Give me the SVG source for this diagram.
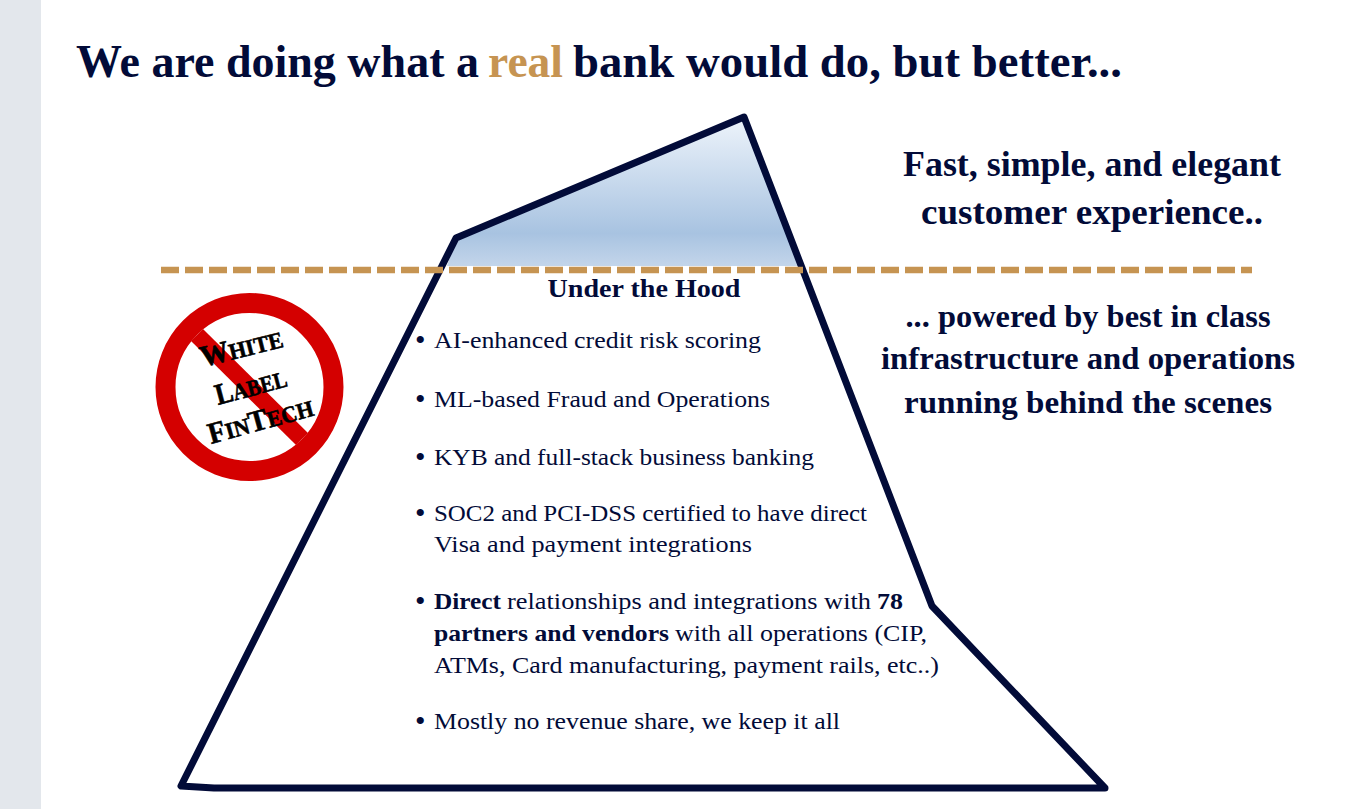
<svg xmlns="http://www.w3.org/2000/svg" width="1367" height="809" viewBox="0 0 1367 809">
<style>
text{font-family:"Liberation Serif","Times New Roman",serif;fill:#020b38}
.h{font-weight:bold;font-size:47px}
.s{font-weight:bold;font-size:36px;text-anchor:middle}
.t{font-weight:bold;font-size:32.500px;text-anchor:middle}
.u{font-weight:bold;font-size:26px;text-anchor:middle}
.b{font-size:24px}
.k{font-size:24px;font-weight:bold}
.d{font-size:30px}
.w{font-weight:bold;font-size:30px;fill:#000;stroke:#000;stroke-width:.6px}
.w tspan{font-size:23px}
</style>
<defs>
<linearGradient id="g" x1="0" y1="0" x2="0" y2="1">
<stop offset="0" stop-color="#eef4fb"/><stop offset="0.78" stop-color="#a8c3e1"/><stop offset="1" stop-color="#c3d5ea"/>
</linearGradient>
</defs>
<rect width="1367" height="809" fill="#fff"/>
<rect width="41" height="809" fill="#e3e7ec"/>
<g id="title">
<text class="h" x="76" y="77" textLength="403" lengthAdjust="spacingAndGlyphs">We are doing what a</text>
<text class="h" x="488" y="77" textLength="75" lengthAdjust="spacingAndGlyphs" style="fill:#c69452">real</text>
<text class="h" x="573" y="77" textLength="549" lengthAdjust="spacingAndGlyphs">bank would do, but better...</text>
</g>
<g id="iceberg">
<path d="M456 238 744 117 802 266H447Z" fill="url(#g)"/>
<path d="M744 117 456 238 181 786 214 788H1105L932 606Z" fill="none" stroke="#020b38" stroke-width="7" stroke-linejoin="round"/>
</g>
<g id="connectors"><path d="M161 270H1252" fill="none" stroke="#c69452" stroke-width="6.500" stroke-dasharray="18 6"/></g>
<g id="top-text">
<text class="s" x="1092" y="176" textLength="378" lengthAdjust="spacingAndGlyphs">Fast, simple, and elegant</text>
<text class="s" x="1092" y="224" textLength="342" lengthAdjust="spacingAndGlyphs">customer experience..</text>
</g>
<g id="bottom-text">
<text class="t" x="1088" y="327" textLength="365" lengthAdjust="spacingAndGlyphs">... powered by best in class</text>
<text class="t" x="1088" y="369" textLength="414" lengthAdjust="spacingAndGlyphs">infrastructure and operations</text>
<text class="t" x="1088" y="413" textLength="368" lengthAdjust="spacingAndGlyphs">running behind the scenes</text>
</g>
<g id="no-sign">
<circle cx="249.500" cy="387" r="84" fill="#fff" stroke="#d40000" stroke-width="20"/>
<path d="M197 335 302 439" stroke="#d40000" stroke-width="17" fill="none"/>
<text class="w" transform="translate(203 367) rotate(-14)" textLength="84" lengthAdjust="spacingAndGlyphs">W<tspan>HITE</tspan></text>
<text class="w" transform="translate(218 405) rotate(-15)" textLength="73" lengthAdjust="spacingAndGlyphs">L<tspan>ABEL</tspan></text>
<text class="w" transform="translate(211 444) rotate(-15.500)" textLength="108" lengthAdjust="spacingAndGlyphs">F<tspan>IN</tspan>T<tspan>ECH</tspan></text>
</g>
<g id="under-hood">
<text class="u" x="644" y="297" textLength="193" lengthAdjust="spacingAndGlyphs">Under the Hood</text>
<g class="d">
<text x="415" y="350">•</text><text x="415" y="409">•</text><text x="415" y="467">•</text><text x="415" y="523">•</text><text x="415" y="611">•</text><text x="415" y="731">•</text>
</g>
<text class="b" x="434" y="348" textLength="327" lengthAdjust="spacingAndGlyphs">AI-enhanced credit risk scoring</text>
<text class="b" x="434" y="407" textLength="336" lengthAdjust="spacingAndGlyphs">ML-based Fraud and Operations</text>
<text class="b" x="434" y="465" textLength="380" lengthAdjust="spacingAndGlyphs">KYB and full-stack business banking</text>
<text class="b" x="434" y="521" textLength="433" lengthAdjust="spacingAndGlyphs">SOC2 and PCI-DSS certified to have direct</text>
<text class="b" x="434" y="552" textLength="318" lengthAdjust="spacingAndGlyphs">Visa and payment integrations</text>
<text class="k" x="434" y="609" textLength="67" lengthAdjust="spacingAndGlyphs">Direct</text>
<text class="b" x="507" y="609" textLength="364" lengthAdjust="spacingAndGlyphs">relationships and integrations with</text>
<text class="k" x="877" y="609" textLength="26" lengthAdjust="spacingAndGlyphs">78</text>
<text class="k" x="434" y="641" textLength="235" lengthAdjust="spacingAndGlyphs">partners and vendors</text>
<text class="b" x="675" y="641" textLength="252" lengthAdjust="spacingAndGlyphs">with all operations (CIP,</text>
<text class="b" x="434" y="673" textLength="505" lengthAdjust="spacingAndGlyphs">ATMs, Card manufacturing, payment rails, etc..)</text>
<text class="b" x="434" y="729" textLength="406" lengthAdjust="spacingAndGlyphs">Mostly no revenue share, we keep it all</text>
</g>
</svg>
